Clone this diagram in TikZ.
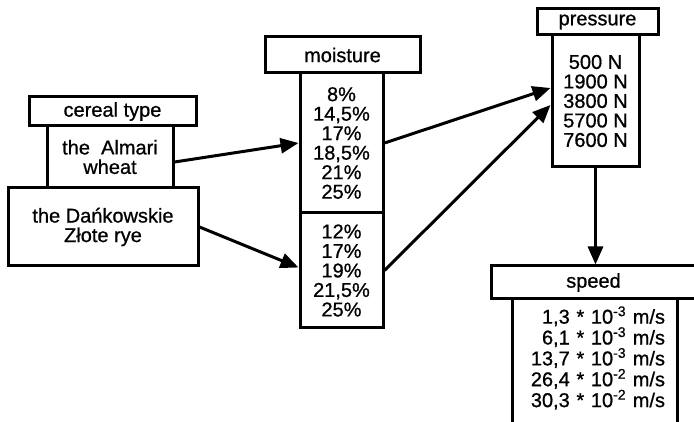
\documentclass[tikz,border=0pt]{standalone}
\usepackage{fontspec}
\setmainfont[FakeBold=0.8]{Liberation Sans}
\usetikzlibrary{arrows.meta}

\tikzset{
  box/.style={draw, line width=3pt, rectangle, align=center, inner sep=2pt,
    font=\fontsize{20}{19.5}\selectfont},
  arr/.style={line width=3pt, -{Triangle[length=18pt,width=15pt]}}
}

\begin{document}
\begin{tikzpicture}[x=1pt, y=-1pt]

\useasboundingbox (0,0) rectangle (694,422);
\clip (0,0) rectangle (694,422);

\node[box, minimum width=167, minimum height=29] (cereal) at (112.5,111.5) {cereal type};
\node[box, minimum width=126, minimum height=62] (almari) at (110,157) {the~ Almari\\wheat};
\node[box, minimum width=190, minimum height=78] (danko) at (103,227) {the Dańkowskie\\Złote rye};

\node[box, minimum width=155, minimum height=36] (moist) at (342.5,55) {moisture};
\node[box, minimum width=83, minimum height=140] (moistA) at (341.5,143) {8\%\\14,5\%\\17\%\\18,5\%\\21\%\\25\%};
\node[box, minimum width=83, minimum height=115] (moistB) at (341.5,270.5) {12\%\\17\%\\19\%\\21,5\%\\25\%};

\node[box, minimum width=121, minimum height=26] (presh) at (597.5,22) {pressure};
\node[box, minimum width=87, minimum height=132] (pres) at (595.5,101) {500 N\\1900 N\\3800 N\\5700 N\\7600 N};

\node[box, minimum width=205, minimum height=33] (spdh) at (593.5,282.5) {speed};
\draw[line width=3pt] (512,299) rectangle (677,450);
\node[align=right, text width=141pt, inner sep=0pt, font=\fontsize{20}{14.7}\selectfont] (spd) at (594.5,358)
  {1,3 * 10\textsuperscript{-3} m/s\\6,1 * 10\textsuperscript{-3} m/s\\13,7 * 10\textsuperscript{-3} m/s\\26,4 * 10\textsuperscript{-2} m/s\\30,3 * 10\textsuperscript{-2} m/s};

\draw[arr] ([yshift=-5pt]almari.east) -- (moistA.west);
\draw[arr] (danko.east) -- ([yshift=3pt]moistB.west);
\draw[arr] (moistA.east) -- ([yshift=13pt]pres.west);
\draw[arr] (moistB.east) -- ([yshift=-4pt]pres.west);
\draw[arr] (pres.south) -- (pres.south |- spdh.north);

\end{tikzpicture}
\end{document}
